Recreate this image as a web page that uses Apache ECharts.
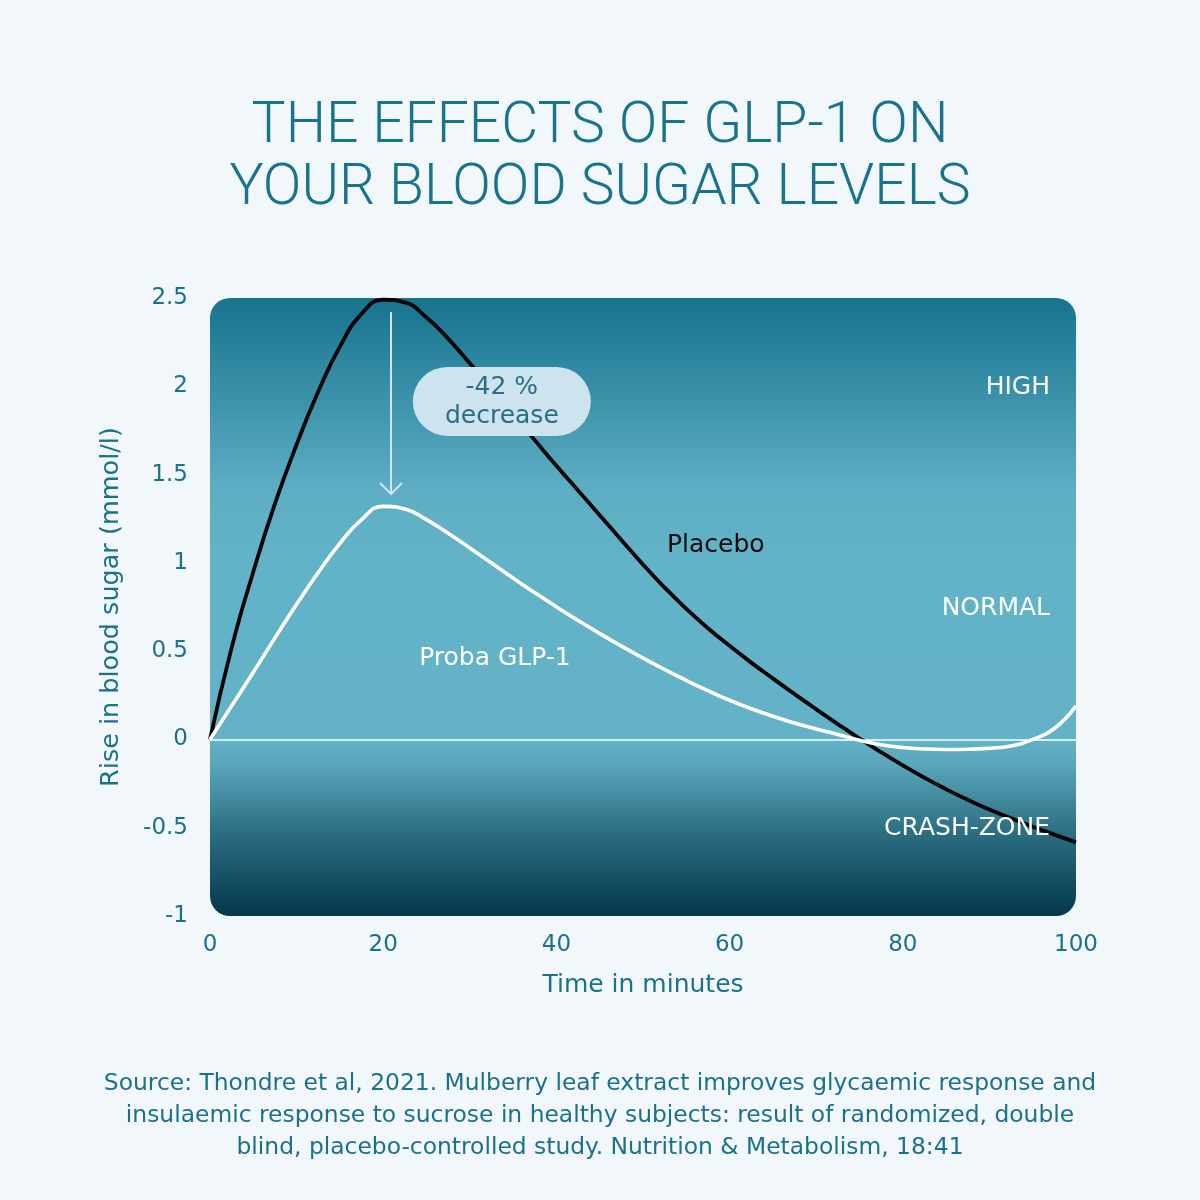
<!DOCTYPE html>
<html>
<head>
<meta charset="utf-8">
<script src="https://cdn.jsdelivr.net/npm/echarts@6/dist/echarts.min.js"></script>
<style>
  html, body { margin: 0; padding: 0; background: #f1f7fa; }
  #chart { width: 1200px; height: 1200px; }
</style>
</head>
<body>
<div id="chart"></div>
<script>
// ---- data ----
const times   = [0, 2.5, 5, 7.5, 10, 12.5, 15, 17.5, 20, 22.5, 25, 27.5, 30, 32.5, 35, 37.5, 40, 42.5, 45, 47.5, 50,
                 52.5, 55, 57.5, 60, 62.5, 65, 67.5, 70, 72.5, 75, 77.5, 80, 82.5, 85, 87.5, 90, 92.5, 95, 97.5, 100];
const placebo = [0, 0.52, 0.95, 1.335, 1.67, 1.97, 2.225, 2.41, 2.49, 2.475, 2.39, 2.27, 2.13, 1.985, 1.84, 1.695, 1.55, 1.41, 1.27, 1.13, 0.99,
                 0.86, 0.74, 0.63, 0.53, 0.435, 0.345, 0.257, 0.171, 0.087, 0.005, -0.073, -0.147, -0.217, -0.282, -0.342, -0.397, -0.447, -0.494, -0.539, -0.583];
const glp1    = [0, 0.19, 0.38, 0.575, 0.765, 0.945, 1.11, 1.245, 1.32, 1.305, 1.245, 1.167, 1.084, 0.999, 0.914, 0.831, 0.751, 0.674, 0.60, 0.529, 0.461,
                 0.396, 0.334, 0.276, 0.222, 0.174, 0.131, 0.093, 0.059, 0.028, -0.005, -0.03, -0.046, -0.054, -0.057, -0.056, -0.05, -0.037, 0.0, 0.062, 0.19];
const xTicks  = [0, 20, 40, 60, 80, 100];
const yTicks  = [-1, -0.5, 0, 0.5, 1, 1.5, 2, 2.5];
const seriesNames = ['Placebo', 'Proba GLP-1'];
const zoneNames   = ['HIGH', 'NORMAL', 'CRASH-ZONE'];
const zoneLevels  = [2.0, 0.75, -0.5];
const titleText   = 'THE EFFECTS OF GLP-1 ON\nYOUR BLOOD SUGAR LEVELS';
const sourceText  = 'Source: Thondre et al, 2021. Mulberry leaf extract improves glycaemic response and\ninsulaemic response to sucrose in healthy subjects: result of randomized, double\nblind, placebo-controlled study. Nutrition & Metabolism, 18:41';
const peakTime    = 20.9;
const decreaseText = '-42 %\ndecrease';

// ---- chart ----
const TFONT = 'Roboto';
const FONT = 'DejaVu Sans';
const TXT = '#1b7189';
const chart = echarts.init(document.getElementById('chart'));
const pairs = (xs, ys) => xs.map((x, i) => [x, ys[i]]);

chart.setOption({
  backgroundColor: '#f1f7fa',
  animation: false,
  textStyle: { fontFamily: FONT },
  title: [
    { text: titleText, left: 'center', top: 92,
      textStyle: { fontFamily: TFONT, fontSize: 57, fontWeight: 300, color: '#18738c', lineHeight: 62 } }
  ],
  grid: { left: 210, right: 124, top: 298, bottom: 284, containLabel: false },
  xAxis: {
    type: 'value', min: xTicks[0], max: xTicks[xTicks.length - 1], interval: 20,
    name: 'Time in minutes', nameLocation: 'middle', nameGap: 57,
    nameTextStyle: { fontSize: 25, color: TXT, fontFamily: FONT },
    axisLine: { show: false }, axisTick: { show: false }, splitLine: { show: false },
    axisLabel: { fontSize: 23, color: TXT, margin: 18, fontFamily: FONT }
  },
  yAxis: {
    type: 'value', min: yTicks[0], max: yTicks[yTicks.length - 1], interval: 0.5,
    name: 'Rise in blood sugar (mmol/l)', nameLocation: 'middle', nameGap: 86,
    nameTextStyle: { fontSize: 25.5, color: TXT, fontFamily: FONT },
    axisLine: { show: false }, axisTick: { show: false }, splitLine: { show: false },
    axisLabel: { fontSize: 23, color: TXT, margin: 22, fontFamily: FONT }
  },
  series: [
    { name: seriesNames[0], type: 'line', data: pairs(times, placebo), smooth: 0.5, showSymbol: false, symbol: 'none',
      z: 4, lineStyle: { color: '#050505', width: 3.8 },
      markLine: { silent: true, symbol: 'none', label: { show: false }, z: 3,
        lineStyle: { color: '#d3edf5', width: 2, type: 'solid' }, data: [{ yAxis: 0 }] } },
    { name: seriesNames[1], type: 'line', data: pairs(times, glp1), smooth: 0.5, showSymbol: false, symbol: 'none',
      z: 5, lineStyle: { color: '#ffffff', width: 3.6 } }
  ]
});

// background panel and annotations placed through the axes
const P = (x, y) => chart.convertToPixel({ gridIndex: 0 }, [x, y]);
const tl = P(0, 2.5), br = P(100, -1), zero = P(0, 0);
const zf = (zero[1] - tl[1]) / (br[1] - tl[1]);
const graphics = [];
graphics.push({
  type: 'rect', z: 0, silent: true,
  shape: { x: tl[0], y: tl[1], width: br[0] - tl[0], height: br[1] - tl[1], r: 20 },
  style: { fill: new echarts.graphic.LinearGradient(0, 0, 0, 1, [
    { offset: 0, color: '#16738e' },
    { offset: 0.3, color: '#5cacc3' },
    { offset: 0.42, color: '#63b3c8' },
    { offset: zf, color: '#63b2c7' },
    { offset: zf + 0.04, color: '#5aa6bb' },
    { offset: zf + 0.15, color: '#2c6e83' },
    { offset: 1, color: '#04374a' }
  ]) }
});
zoneNames.forEach((n, i) => {
  const p = P(97, zoneLevels[i]);
  graphics.push({ type: 'text', z: 10, silent: true, x: p[0], y: p[1] + 1,
    style: { text: n, fill: '#ffffff', font: '25px "' + FONT + '"', align: 'right', verticalAlign: 'middle' } });
});
const pl = P(58.4, 1.1);
graphics.push({ type: 'text', z: 10, x: pl[0], y: pl[1],
  style: { text: seriesNames[0], fill: '#0a0a0a', font: '25px "' + FONT + '"', align: 'center', verticalAlign: 'middle' } });
const gl = P(32.9, 0.46);
graphics.push({ type: 'text', z: 10, x: gl[0], y: gl[1],
  style: { text: seriesNames[1], fill: '#ffffff', font: '25px "' + FONT + '"', align: 'center', verticalAlign: 'middle' } });
// arrow
const a0 = P(peakTime, 2.42), a1 = P(peakTime, 1.39);
graphics.push({ type: 'line', z: 10, shape: { x1: a0[0], y1: a0[1], x2: a1[0], y2: a1[1] },
  style: { stroke: '#cfe6f0', lineWidth: 2 } });
graphics.push({ type: 'polyline', z: 10, shape: { points: [[a1[0] - 11, a1[1] - 11], [a1[0], a1[1]], [a1[0] + 11, a1[1] - 11]] },
  style: { stroke: '#cfe6f0', lineWidth: 2, fill: 'none' } });
// pill
const pc = P(33.7, 1.914);
graphics.push({ type: 'rect', z: 10, shape: { x: pc[0] - 89, y: pc[1] - 34.5, width: 178, height: 69, r: 34.5 },
  style: { fill: '#cde4ef' } });
graphics.push({ type: 'text', z: 11, x: pc[0], y: pc[1] + 1,
  style: { text: decreaseText, fill: '#2a6d85', font: '25px "' + FONT + '"', lineHeight: 29, align: 'center', verticalAlign: 'middle' } });
// source note
graphics.push({ type: 'text', z: 10, x: 600, y: 1116,
  style: { text: sourceText, fill: TXT, font: '23.4px "' + FONT + '"', lineHeight: 32, align: 'center', verticalAlign: 'middle' } });

chart.setOption({ graphic: graphics });
</script>
</body>
</html>
